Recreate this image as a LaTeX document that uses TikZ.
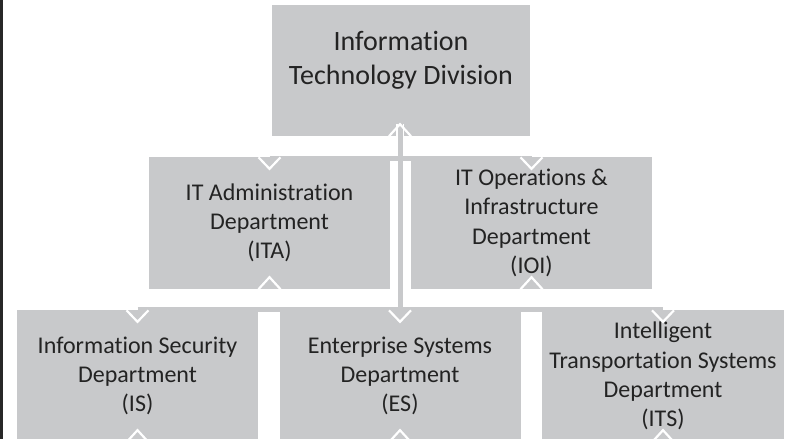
\documentclass[tikz,border=0pt]{standalone}
\usepackage{fontspec}
\setmainfont{Carlito}[Ligatures={NoCommon,NoContextual}]
\usetikzlibrary{calc}
\definecolor{boxgray}{RGB}{200,201,203}
\definecolor{txt}{RGB}{35,35,35}
\definecolor{barcol}{RGB}{40,40,40}
\begin{document}
\begin{tikzpicture}[x=1pt,y=-1pt,
  box/.style={rectangle, fill=boxgray, draw=none, inner sep=0pt,
    minimum width=241pt, minimum height=132pt, text=txt, align=center,
    font=\fontsize{24}{29.3}\selectfont},
  toplabel/.style={text=txt, align=center, inner sep=0pt, font=\fontsize{28}{34}\selectfont},
  chev/.style={draw=white, line width=2.2pt},
  trunk/.style={draw=white, double=boxgray, line width=1.5pt, double distance=5pt},
  bus/.style={draw=boxgray, line width=4.5pt}]
\useasboundingbox (0,0) rectangle (787,439);
\fill[barcol] (0,0) rectangle (3.3,439);
% boxes
\node[box, minimum width=258pt, minimum height=131pt] (top) at (401,70.5) {};
\node[toplabel] (toptext) at (401,60) {Information\\Technology Division};
\node[box] (ita) at (269.5,223) {IT Administration\\Department\\(ITA)};
\node[box] (ioi) at (531.5,223) {IT Operations \&\\Infrastructure\\Department\\(IOI)};
\node[box] (is) at (137.5,376) {Information Security\\Department\\(IS)};
\node[box] (es) at (400,376) {Enterprise Systems\\Department\\(ES)};
\node[box, minimum width=242pt] (its) at (663,376) {Intelligent\\Transportation Systems\\Department\\(ITS)};
% trunk
\coordinate (trunktop) at ($(es.north |- top.south)+(0,-12)$);
\draw[trunk] (trunktop) -- (es.north);
% buses
\draw[bus] ($(ita.north)+(0,1.5)$) -- ($(ioi.north)+(0,1.5)$);
\draw[bus] ($(is.north)+(0,-0.5)$) -- ($(its.north)+(0,-0.5)$);
% chevrons
\draw[chev] ($(es.north |- top.south)+(-11,0)$) -- (trunktop) -- ($(es.north |- top.south)+(11,0)$);
\foreach \n in {ita,ioi,is,es,its}{
  \draw[chev] ($(\n.north)+(-11,0.5)$) -- ($(\n.north)+(0,12)$) -- ($(\n.north)+(11,0.5)$);
  \draw[chev] ($(\n.south)+(-11,0)$) -- ($(\n.south)+(0,-12)$) -- ($(\n.south)+(11,0)$);
}
\end{tikzpicture}
\end{document}
